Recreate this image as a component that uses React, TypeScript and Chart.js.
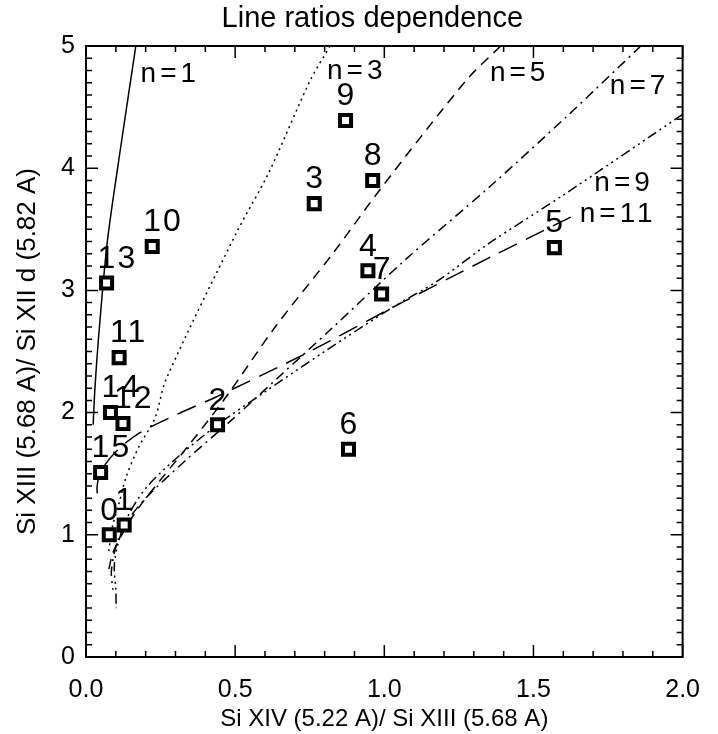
import React, { useEffect, useRef } from "react";
import { Chart, registerables } from "chart.js";
Chart.register(...registerables);

const FONT = "Liberation Sans";

// observation points (squares)
const pointIds = ["0", "1", "2", "3", "4", "5", "6", "7", "8", "9", "10", "11", "12", "13", "14", "15"];
const pointX = [0.078, 0.128, 0.441, 0.765, 0.945, 1.57, 0.88, 0.991, 0.961, 0.87, 0.222, 0.111, 0.124, 0.069, 0.082, 0.049];
const pointY = [1.0, 1.08, 1.9, 3.71, 3.16, 3.35, 1.7, 2.97, 3.9, 4.39, 3.36, 2.45, 1.91, 3.06, 2.0, 1.51];

// model curves
const n1X = [0.167, 0.118, 0.072, 0.045, 0.03, 0.024];
const n1Y = [5.0, 4.2, 3.41, 2.7, 2.2, 1.9];
const n3X = [0.818, 0.752, 0.612, 0.504, 0.268, 0.232, 0.177, 0.134, 0.111, 0.088, 0.076];
const n3Y = [5.0, 4.72, 3.96, 3.47, 2.27, 1.96, 1.72, 1.47, 1.26, 1.06, 0.86];
const n5X = [1.39, 1.275, 0.984, 0.83, 0.634, 0.47, 0.35, 0.25, 0.17, 0.12, 0.09, 0.075];
const n5Y = [5.0, 4.72, 3.82, 3.31, 2.7, 2.13, 1.75, 1.45, 1.2, 1.0, 0.85, 0.7];
const n7X = [1.86, 1.61, 1.354, 1.07, 0.82, 0.65, 0.484, 0.33, 0.2, 0.13, 0.1, 0.085, 0.09];
const n7Y = [5.0, 4.42, 3.85, 3.25, 2.68, 2.3, 1.93, 1.6, 1.3, 1.08, 0.9, 0.7, 0.55];
const n9X = [2.0, 1.6, 1.354, 1.18, 1.027, 0.8, 0.6, 0.441, 0.3, 0.2, 0.14, 0.11, 0.095, 0.1, 0.101];
const n9Y = [4.44, 3.78, 3.39, 3.08, 2.86, 2.5, 2.17, 1.9, 1.62, 1.38, 1.15, 0.95, 0.75, 0.55, 0.4];
const n11X = [1.625, 1.354, 1.027, 0.75, 0.438, 0.3, 0.177, 0.1, 0.05, 0.037, 0.04];
const n11Y = [3.6, 3.27, 2.86, 2.5, 2.13, 1.98, 1.83, 1.68, 1.52, 1.39, 1.3];

const curveNames = ["n=1", "n=3", "n=5", "n=7", "n=9", "n=11"];
const curveXs = [n1X, n3X, n5X, n7X, n9X, n11X];
const curveYs = [n1Y, n3Y, n5Y, n7Y, n9Y, n11Y];
const curveDashes = [[], [2, 4], [10, 7], [10, 5, 2, 5], [10, 4, 2, 4, 2, 4, 2, 4], [20, 10]];
const curveLabelX = [0.183, 0.808, 1.354, 1.756, 1.704, 1.655];
const curveLabelY = [4.77, 4.79, 4.78, 4.67, 3.88, 3.62];

const xTicksMajor = [0, 0.5, 1.0, 1.5, 2.0];
const titleText = "Line ratios dependence";
const xTitle = "Si XIV (5.22 A)/ Si XIII (5.68 A)";
const yTitle = "Si XIII (5.68 A)/ Si XII d (5.82 A)";

const zip = (xs: number[], ys: number[]) => xs.map((x, i) => ({ x, y: ys[i] }));

const titlePlugin = {
  id: "mainTitle",
  afterDraw(chart: any) {
    const { ctx, chartArea: a } = chart;
    ctx.save();
    ctx.fillStyle = "#000";
    ctx.font = `29px "${FONT}"`;
    ctx.textAlign = "center";
    ctx.textBaseline = "middle";
    ctx.fillText(titleText, (a.left + a.right) / 2 - 12, 19);
    ctx.restore();
  },
};

const framePlugin = {
  id: "frame",
  afterDraw(chart: any) {
    const { ctx, chartArea: a, scales } = chart;
    const xs = scales.x;
    const ys = scales.y;
    ctx.save();
    ctx.strokeStyle = "#000";
    ctx.lineWidth = 1.5;
    ctx.beginPath();
    for (let i = 0; i <= 20; i++) {
      const v = i / 10;
      const px = xs.getPixelForValue(v);
      const L = i % 5 === 0 ? 12 : 6;
      ctx.moveTo(px, a.bottom);
      ctx.lineTo(px, a.bottom - L);
      ctx.moveTo(px, a.top);
      ctx.lineTo(px, a.top + L);
    }
    for (let i = 0; i <= 50; i++) {
      const v = i / 10;
      const py = ys.getPixelForValue(v);
      const L = i % 10 === 0 ? 12 : 6;
      ctx.moveTo(a.left, py);
      ctx.lineTo(a.left + L, py);
      ctx.moveTo(a.right, py);
      ctx.lineTo(a.right - L, py);
    }
    ctx.stroke();
    ctx.lineWidth = 2;
    ctx.strokeRect(a.left, a.top, a.right - a.left, a.bottom - a.top);
    ctx.restore();
  },
};

const labelPlugin = {
  id: "labels",
  afterDatasetsDraw(chart: any) {
    const { ctx, scales } = chart;
    const xs = scales.x;
    const ys = scales.y;
    ctx.save();
    ctx.fillStyle = "#000";
    ctx.textAlign = "left";
    ctx.textBaseline = "middle";
    ctx.font = `32px "${FONT}"`;
    ctx.letterSpacing = "2px";
    const meta = chart.getDatasetMeta(0);
    meta.data.forEach((el: any, i: number) => {
      ctx.fillText(pointIds[i], el.x - 9, el.y - 24);
    });
    ctx.font = `28px "${FONT}"`;
    ctx.letterSpacing = "4px";
    curveNames.forEach((t, i) => {
      ctx.fillText(t, xs.getPixelForValue(curveLabelX[i]), ys.getPixelForValue(curveLabelY[i]));
    });
    ctx.restore();
  },
};

export default function App() {
  const ref = useRef<HTMLCanvasElement>(null);
  useEffect(() => {
    Chart.defaults.font.family = FONT;
    Chart.defaults.color = "#000";
    const curveSets = curveNames.map((name, i) => ({
      label: name,
      data: zip(curveXs[i], curveYs[i]),
      showLine: true,
      borderColor: "#000",
      borderWidth: 1.5,
      borderDash: curveDashes[i],
      pointRadius: 0,
      tension: 0.3,
      fill: false,
    }));
    const chart = new Chart(ref.current!, {
      type: "scatter",
      data: {
        datasets: [
          {
            label: "points",
            data: zip(pointX, pointY),
            pointStyle: "rect",
            pointRadius: 7.8,
            borderWidth: 4,
            borderColor: "#000",
            backgroundColor: "#fff",
            showLine: false,
          },
          ...curveSets,
        ] as any,
      },
      options: {
        responsive: false,
        animation: false,
        layout: { padding: { left: 0, right: 20, top: 46, bottom: 0 } },
        plugins: {
          legend: { display: false },
          tooltip: { enabled: false },
          title: { display: false },
        },
        scales: {
          x: {
            type: "linear",
            min: 0,
            max: 2,
            afterBuildTicks: (s: any) => {
              s.ticks = xTicksMajor.map((v) => ({ value: v }));
            },
            ticks: {
              callback: (v: any) => Number(v).toFixed(1),
              font: { size: 25, family: FONT },
              color: "#000",
              padding: 18,
              maxRotation: 0,
            },
            grid: { display: false, drawTicks: false },
            border: { display: false },
            title: {
              display: true,
              text: xTitle,
              color: "#000",
              font: { size: 24, family: FONT },
              padding: { top: 0, bottom: 0 },
            },
            afterFit: (s: any) => {
              s.height = 77;
            },
          },
          y: {
            type: "linear",
            min: 0,
            max: 5,
            ticks: {
              stepSize: 1,
              font: { size: 25, family: FONT },
              color: "#000",
              padding: 11,
            },
            grid: { display: false, drawTicks: false },
            border: { display: false },
            title: {
              display: true,
              text: yTitle,
              color: "#000",
              font: { size: 26, family: FONT },
              padding: { top: 12, bottom: 0 },
            },
            afterFit: (s: any) => {
              s.width = 86;
            },
          },
        },
      } as any,
      plugins: [labelPlugin, framePlugin, titlePlugin],
    });
    return () => chart.destroy();
  }, []);
  return (
    <div style={{ position: "fixed", left: 0, top: 0, width: 718, height: 734, background: "#fff" }}>
      <canvas ref={ref} width={718} height={734} style={{ display: "block" }} />
    </div>
  );
}
